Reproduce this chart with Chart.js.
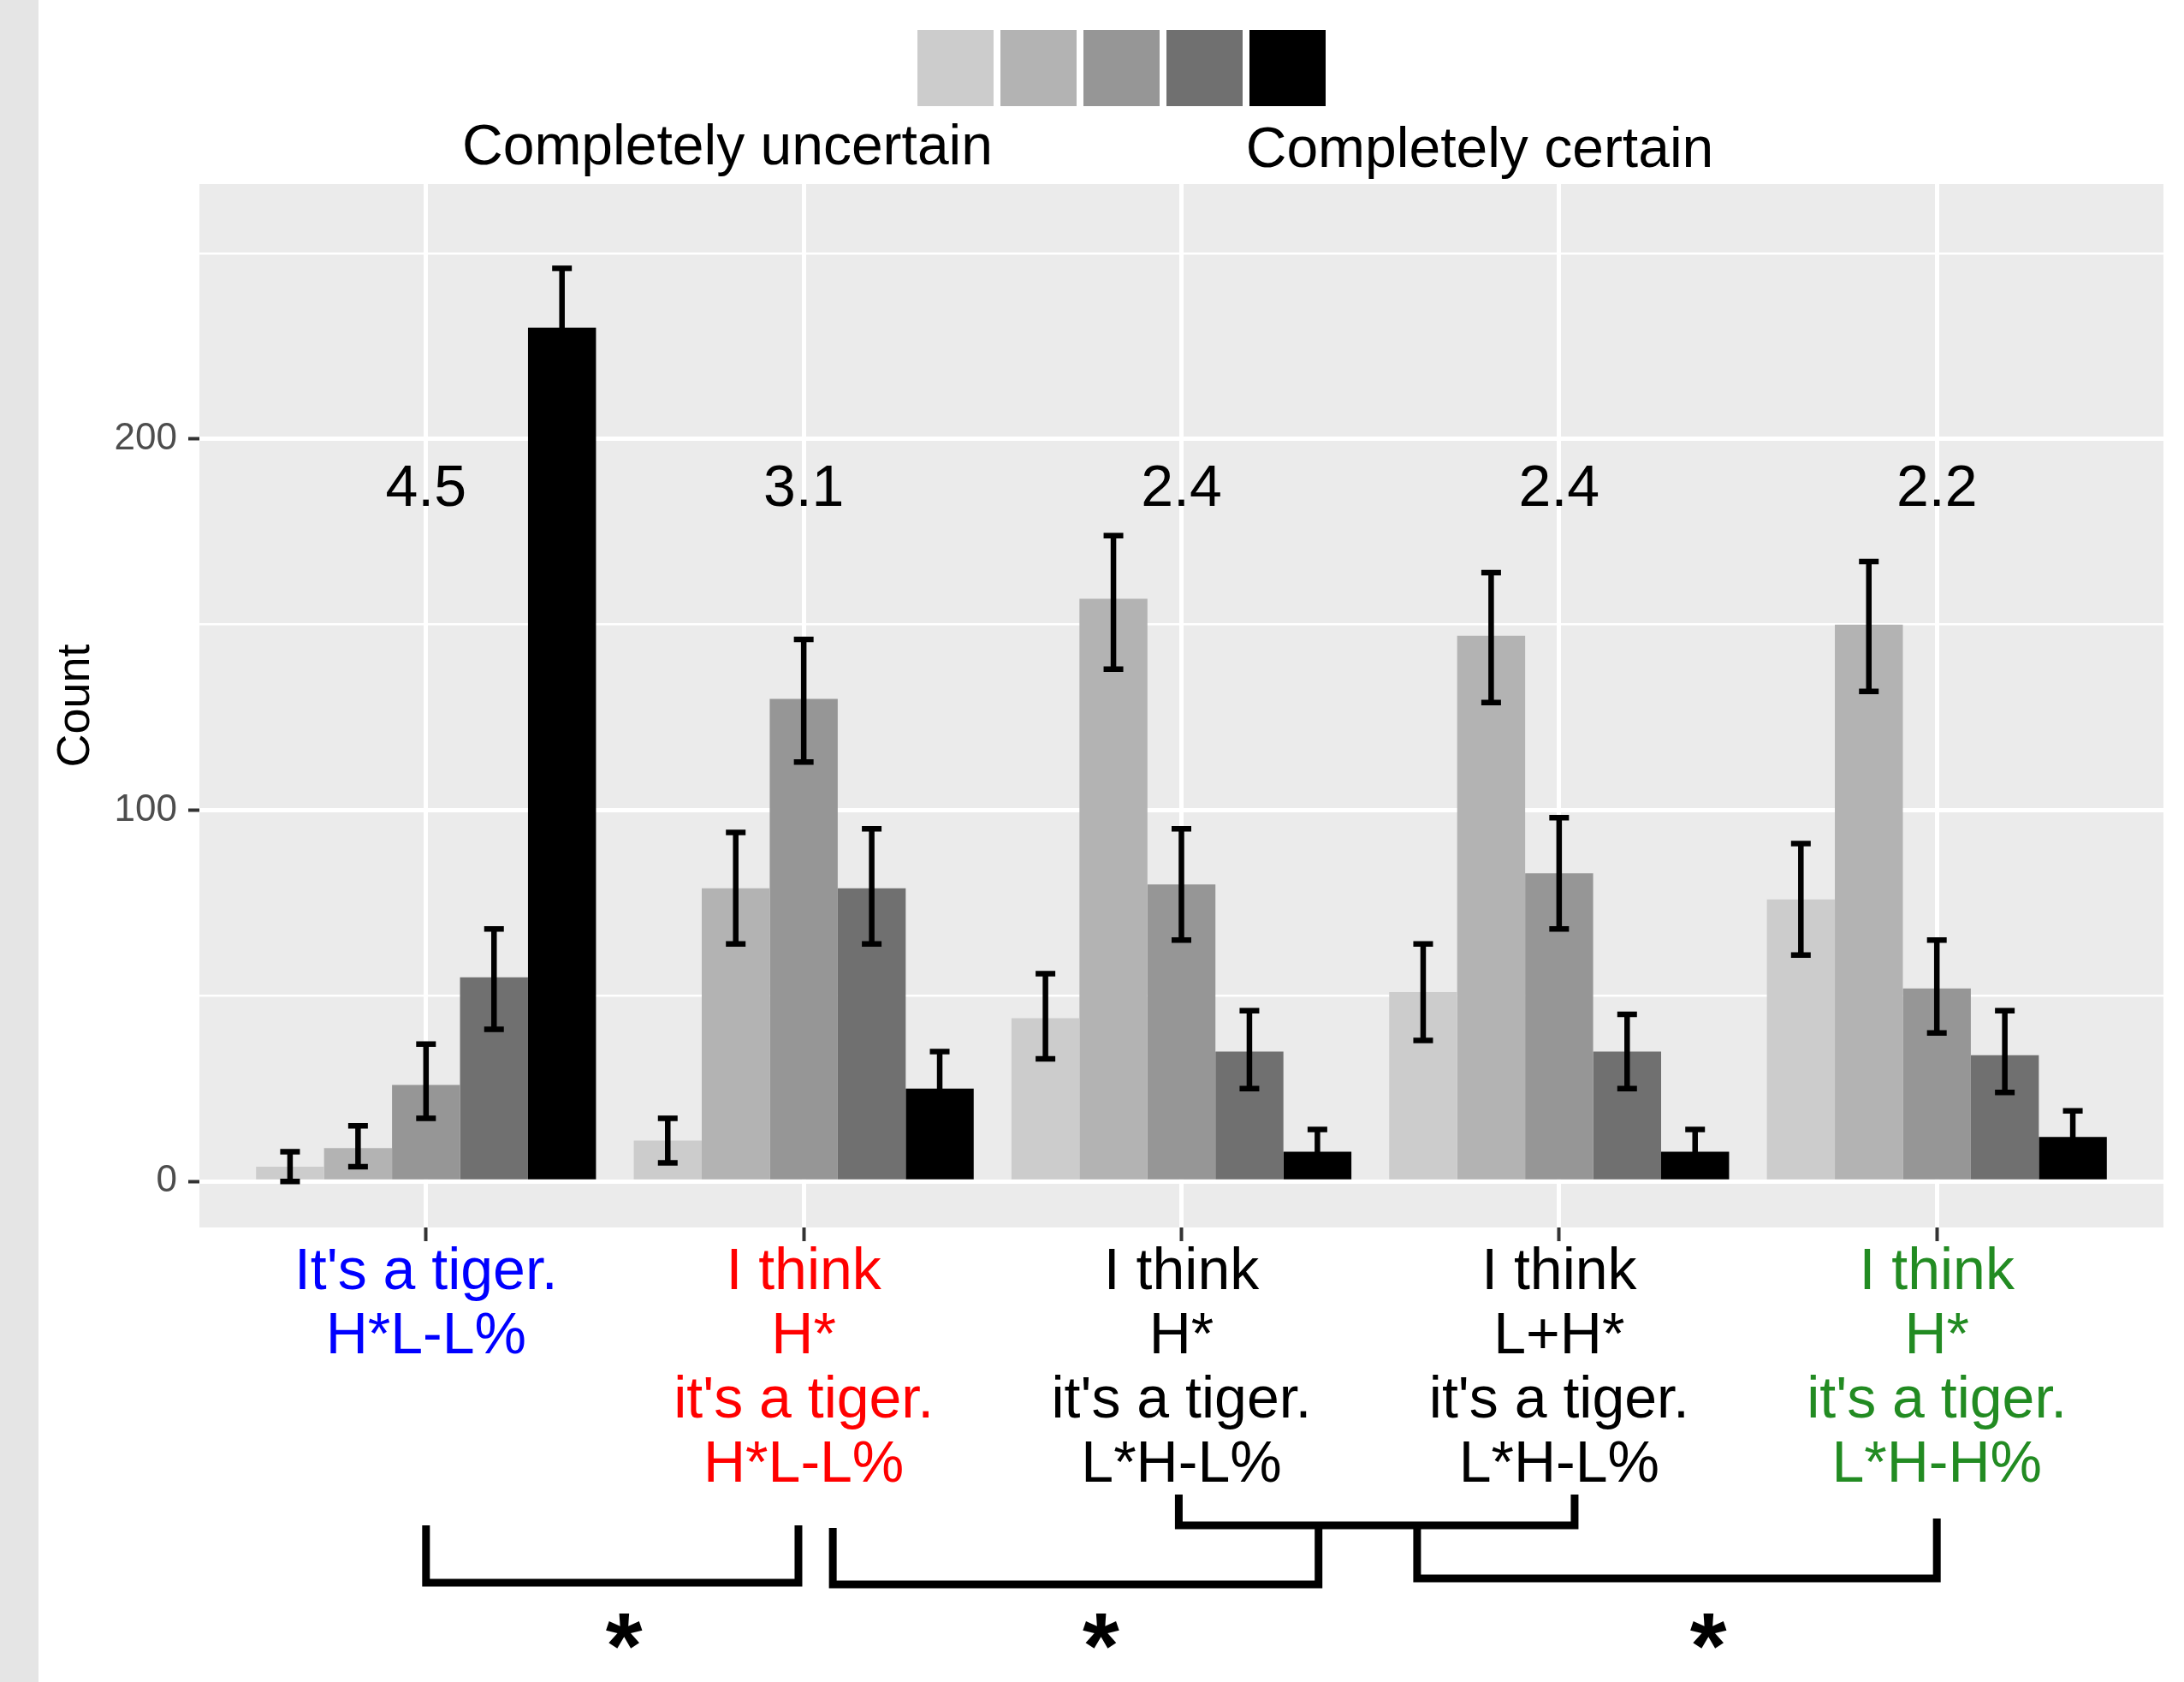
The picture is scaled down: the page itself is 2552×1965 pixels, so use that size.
<!DOCTYPE html>
<html>
<head>
<meta charset="utf-8">
<script src="https://cdn.jsdelivr.net/npm/chart.js@4/dist/chart.umd.min.js"></script>
<style>
  html, body { margin: 0; padding: 0; background: #fff; overflow: hidden; }
  canvas { display: block; }
</style>
</head>
<body>
<canvas id="chart" width="2552" height="1965"></canvas>
<script>
const FONT = '"Liberation Sans", Arial, Helvetica, sans-serif';

// data
const categories = [
    ["It's a tiger.", "H*L-L%"],
    ["I think", "H*", "it's a tiger.", "H*L-L%"],
    ["I think", "H*", "it's a tiger.", "L*H-L%"],
    ["I think", "L+H*", "it's a tiger.", "L*H-L%"],
    ["I think", "H*", "it's a tiger.", "L*H-H%"]
];
const labelColors = ['#0000ff', '#ff0000', '#000000', '#000000', '#228b22'];

const rating1 = [4, 11, 44, 51, 76];
const rating2 = [9, 79, 157, 147, 150];
const rating3 = [26, 130, 80, 83, 52];
const rating4 = [55, 79, 35, 35, 34];
const rating5 = [230, 25, 8, 8, 12];

const low1 = [0, 5, 33, 38, 61];
const high1 = [8, 17, 56, 64, 91];
const low2 = [4, 64, 138, 129, 132];
const high2 = [15, 94, 174, 164, 167];
const low3 = [17, 113, 65, 68, 40];
const high3 = [37, 146, 95, 98, 65];
const low4 = [41, 64, 25, 25, 24];
const high4 = [68, 95, 46, 45, 46];
const low5 = [213, 15, 2, 2, 3];
const high5 = [246, 35, 14, 14, 19];

const meanLabels = ['4.5', '3.1', '2.4', '2.4', '2.2'];
const meanLabelY = 182;

const yTicks = [0, 50, 100, 150, 200, 250];

const greys = ['#cccccc', '#b3b3b3', '#969696', '#707070', '#000000'];

// significance brackets, in category units
const brackets = [
    {from: 0, to: 0.986, y1: 1782, y2: 1782, y: 1849},
    {from: 1.077, to: 2.363, y1: 1785, y2: 1782, y: 1851},
    {from: 1.993, to: 3.041, y1: 1746, y2: 1746, y: 1782},
    {from: 2.624, to: 4.0, y1: 1785, y2: 1774, y: 1844}
];
const stars = [0.524, 1.787, 3.395];


const values = [rating1, rating2, rating3, rating4, rating5];
const lows = [low1, low2, low3, low4, low5];
const highs = [high1, high2, high3, high4, high5];


function getData() {
    let datasets = [];
    for (let i = 0; i < values.length; i++) {
        datasets.push({
            label: 'rating ' + (i + 1),
            data: values[i],
            backgroundColor: greys[i],
            borderWidth: 0,
            categoryPercentage: 0.9,
            barPercentage: 1
        });
    }
    return {labels: categories, datasets: datasets};
}


const backgroundPlugin = {
    id: 'background',
    beforeDraw(chart) {
        const ctx = chart.ctx;
        const a = chart.chartArea;
        ctx.save();
        ctx.fillStyle = '#ffffff';
        ctx.fillRect(0, 0, chart.width, chart.height);
        ctx.fillStyle = '#e5e5e5';
        ctx.fillRect(0, 0, 45, chart.height);
        ctx.fillStyle = '#ebebeb';
        ctx.fillRect(a.left, a.top, a.right - a.left, a.bottom - a.top);
        ctx.restore();
    }
};


const errorBarPlugin = {
    id: 'errorBars',
    afterDatasetsDraw(chart) {
        const ctx = chart.ctx;
        const y = chart.scales.y;
        ctx.save();
        ctx.strokeStyle = '#000';
        ctx.lineWidth = 6.5;
        ctx.lineCap = 'butt';
        for (let i = 0; i < values.length; i++) {
            const meta = chart.getDatasetMeta(i);
            meta.data.forEach((bar, j) => {
                const yl = y.getPixelForValue(lows[i][j]);
                const yh = y.getPixelForValue(highs[i][j]);
                ctx.beginPath();
                ctx.moveTo(bar.x, yl);
                ctx.lineTo(bar.x, yh);
                ctx.moveTo(bar.x - 11.5, yl);
                ctx.lineTo(bar.x + 11.5, yl);
                ctx.moveTo(bar.x - 11.5, yh);
                ctx.lineTo(bar.x + 11.5, yh);
                ctx.stroke();
            });
        }
        ctx.restore();
    }
};


const annotationPlugin = {
    id: 'annotations',
    afterDraw(chart) {
        const ctx = chart.ctx;
        const x = chart.scales.x;
        const y = chart.scales.y;
        ctx.save();

        // mean labels
        ctx.fillStyle = '#000';
        ctx.font = '68px ' + FONT;
        ctx.textAlign = 'center';
        ctx.textBaseline = 'alphabetic';
        meanLabels.forEach((m, i) => {
            ctx.fillText(m, x.getPixelForValue(i), y.getPixelForValue(meanLabelY));
        });

        // legend
        for (let i = 0; i < greys.length; i++) {
            ctx.fillStyle = chart.data.datasets[i].backgroundColor;
            ctx.fillRect(1072 + i * 97, 35, 89, 89);
        }
        ctx.fillStyle = '#000';
        ctx.font = '66px ' + FONT;
        ctx.fillText('Completely uncertain', 850, 192);
        ctx.fillText('Completely certain', 1729, 195);

        // brackets
        ctx.strokeStyle = '#000';
        ctx.lineWidth = 9;
        ctx.lineJoin = 'miter';
        brackets.forEach(b => {
            const xl = x.getPixelForValue(b.from);
            const xr = x.getPixelForValue(b.to);
            ctx.beginPath();
            ctx.moveTo(xl, b.y1);
            ctx.lineTo(xl, b.y);
            ctx.lineTo(xr, b.y);
            ctx.lineTo(xr, b.y2);
            ctx.stroke();
        });
        ctx.font = 'bold 110px ' + FONT;
        stars.forEach(s => {
            ctx.fillText('*', x.getPixelForValue(s), 1960);
        });

        ctx.restore();
    }
};


function getOptions() {
    let options = {
        responsive: false,
        animation: false,
        devicePixelRatio: 1,
        layout: {
            padding: {left: 45, top: 215, right: 24, bottom: 0}
        },
        plugins: {
            legend: {display: false},
            tooltip: {enabled: false}
        },
        scales: {
            x: {
                afterFit: (scale) => { scale.height = 531; },
                // ggplot-like discrete expansion: 0.6 of a category on each side
                afterUpdate: (scale) => {
                    scale._startValue = -0.6;
                    scale._valueRange = categories.length - 1 + 1.2;
                },
                border: {display: false},
                grid: {
                    color: '#ffffff',
                    lineWidth: 5,
                    offset: false,
                    tickColor: '#333333',
                    tickLength: 16,
                    tickWidth: 4
                },
                ticks: {
                    color: (ctx) => labelColors[ctx.index],
                    font: {family: FONT, size: 68, lineHeight: '75px'},
                    padding: 0,
                    maxRotation: 0,
                    autoSkip: false
                }
            },
            y: {
                min: -12.4,
                max: 268.7,
                afterFit: (scale) => { scale.width = 188; },
                afterBuildTicks: (scale) => {
                    scale.ticks = yTicks.map(v => ({value: v}));
                },
                border: {display: false},
                grid: {
                    color: '#ffffff',
                    lineWidth: (ctx) => ctx.tick && ctx.tick.value % 100 === 0 ? 5 : 2.5,
                    tickColor: (ctx) => ctx.tick && ctx.tick.value % 100 === 0 ? '#333333' : 'rgba(0,0,0,0)',
                    tickLength: 13,
                    tickWidth: 4
                },
                ticks: {
                    color: '#4d4d4d',
                    font: {family: FONT, size: 44},
                    padding: 13,
                    callback: (v) => v % 100 === 0 ? v : ''
                },
                title: {
                    display: true,
                    text: 'Count',
                    color: '#000',
                    font: {family: FONT, size: 54},
                    padding: {top: 12, bottom: 0}
                }
            }
        }
    };
    return options;
}


const ctx = document.getElementById('chart');
const chart = new Chart(ctx, {
    type: 'bar',
    data: getData(),
    options: getOptions(),
    plugins: [backgroundPlugin, errorBarPlugin, annotationPlugin]
});
</script>
</body>
</html>
